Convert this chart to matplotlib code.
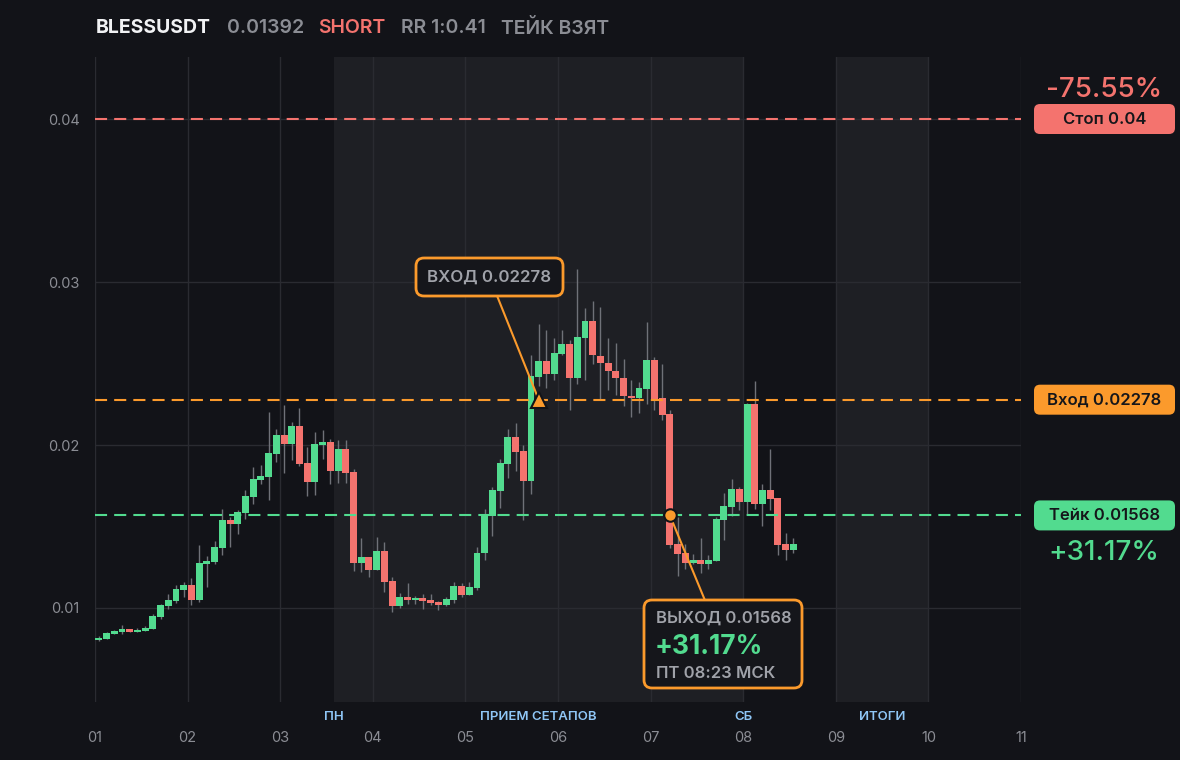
import matplotlib
matplotlib.use('Agg')
import matplotlib.pyplot as plt
from matplotlib.patches import FancyBboxPatch
from matplotlib.transforms import blended_transform_factory

plt.rcParams['font.family'] = ['Inter', 'DejaVu Sans']

# 2h candles, 12 per day
opens = [0.00804, 0.0081, 0.0084, 0.00853, 0.00871, 0.00853, 0.00859, 0.00871, 0.00945, 0.0101,
         0.0104, 0.0111, 0.0114, 0.0105, 0.0127, 0.01282, 0.01368, 0.0154, 0.01515, 0.01583,
         0.01681, 0.01785, 0.01804, 0.01945, 0.02061, 0.02006, 0.02117, 0.0189, 0.01773, 0.01999,
         0.02018, 0.0184, 0.01975, 0.01834, 0.01276, 0.01313, 0.01233, 0.0135, 0.01166, 0.01012,
         0.01067, 0.01049, 0.01061, 0.01049, 0.01037, 0.01018, 0.01049, 0.01135, 0.0108, 0.01123,
         0.01337, 0.01564, 0.01718, 0.01883, 0.02049, 0.01963, 0.01779, 0.02417, 0.02515, 0.02436,
         0.02558, 0.0262, 0.02411, 0.02656, 0.02761, 0.02546, 0.02503, 0.02454, 0.02411, 0.023,
         0.0229, 0.02344, 0.02521, 0.02288, 0.0219, 0.01393, 0.01337, 0.01276, 0.01294, 0.0127,
         0.01288, 0.0154, 0.0162, 0.0173, 0.0165, 0.02252, 0.01638, 0.01724, 0.01675, 0.01393,
         0.01356]
highs = [0.00828, 0.0085, 0.00865, 0.00896, 0.00873, 0.00877, 0.0089, 0.00963, 0.01025, 0.01086,
         0.01141, 0.0116, 0.01184, 0.01387, 0.01319, 0.01411, 0.01607, 0.01558, 0.01601, 0.01724,
         0.01865, 0.01877, 0.02202, 0.02098, 0.02245, 0.02141, 0.02227, 0.01988, 0.0208, 0.02092,
         0.02037, 0.02031, 0.02031, 0.01853, 0.01429, 0.01313, 0.01436, 0.01405, 0.0119, 0.01092,
         0.01153, 0.01074, 0.01086, 0.01086, 0.01043, 0.01067, 0.0116, 0.01153, 0.0116, 0.01374,
         0.01607, 0.01742, 0.01914, 0.021, 0.02135, 0.02, 0.02552, 0.02742, 0.02706, 0.02656,
         0.02706, 0.02644, 0.0308, 0.0284, 0.02883, 0.02847, 0.02656, 0.02626, 0.02528, 0.024,
         0.02387, 0.02755, 0.0254, 0.025, 0.02215, 0.01558, 0.01393, 0.01331, 0.0143, 0.01325,
         0.01558, 0.01706, 0.0179, 0.01742, 0.02258, 0.02393, 0.01761, 0.01975, 0.01675, 0.0146,
         0.0143]
lows = [0.008, 0.0081, 0.0084, 0.0084, 0.00853, 0.0085, 0.00859, 0.00871, 0.00933, 0.00994,
        0.0103, 0.01067, 0.01018, 0.01037, 0.01129, 0.0127, 0.01325, 0.01374, 0.01454, 0.01546,
        0.01638, 0.01761, 0.01663, 0.01896, 0.01828, 0.01908, 0.01871, 0.01687, 0.01693, 0.01914,
        0.01761, 0.01767, 0.01767, 0.01227, 0.01221, 0.0119, 0.01233, 0.01098, 0.00975, 0.01,
        0.01025, 0.01025, 0.00994, 0.01018, 0.00988, 0.01012, 0.01031, 0.01067, 0.0108, 0.01111,
        0.01294, 0.01442, 0.01613, 0.018, 0.0184, 0.0154, 0.017, 0.0236, 0.0235, 0.024,
        0.0255, 0.02215, 0.02374, 0.024, 0.025, 0.02276, 0.02337, 0.02307, 0.02239, 0.0217,
        0.02196, 0.0225, 0.02215, 0.02155, 0.01368, 0.01196, 0.01239, 0.0127, 0.01215, 0.01239,
        0.01288, 0.01417, 0.01564, 0.01601, 0.0157, 0.01607, 0.01503, 0.016, 0.01325, 0.01294,
        0.01337]
closes = [0.00816, 0.00847, 0.00859, 0.00871, 0.00853, 0.00865, 0.00877, 0.00951, 0.01018, 0.0105,
          0.01117, 0.01141, 0.01049, 0.01276, 0.01288, 0.01374, 0.0154, 0.01515, 0.01589, 0.01687,
          0.01791, 0.0181, 0.01952, 0.02061, 0.02006, 0.02117, 0.01883, 0.01773, 0.02006, 0.02018,
          0.0184, 0.01975, 0.01828, 0.01276, 0.01313, 0.01233, 0.0135, 0.0116, 0.01012, 0.01067,
          0.01049, 0.01061, 0.01043, 0.01031, 0.01018, 0.01055, 0.01135, 0.0108, 0.01129, 0.01337,
          0.01571, 0.01724, 0.0189, 0.02049, 0.01957, 0.01779, 0.02423, 0.02515, 0.02436, 0.02564,
          0.0262, 0.02411, 0.02663, 0.02761, 0.02552, 0.02503, 0.02454, 0.02411, 0.023, 0.0229,
          0.0235, 0.02521, 0.02285, 0.02186, 0.01387, 0.01331, 0.01276, 0.01294, 0.0127, 0.01294,
          0.01546, 0.01626, 0.0173, 0.0165, 0.02252, 0.01638, 0.01724, 0.01669, 0.01387, 0.01356,
          0.01392]

day_labels = ['01', '02', '03', '04', '05', '06', '07', '08', '09', '10', '11']
price_ticks = [0.01, 0.02, 0.03, 0.04]
candles_per_day = 12

stop_price = 0.04
entry_price = 0.02278
take_price = 0.01568
entry_candle = 57
exit_candle = 74

sessions = [(31 / 12, 7.0), (8.0, 9.0)]
session_names = ['ПН', 'ПРИЕМ СЕТАПОВ', 'СБ', 'ИТОГИ']
session_name_x = [31 / 12, (31 / 12 + 7.0) / 2, 7.0, 8.5]

BG = '#121318'
BAND = '#1e1f24'
GRID = '#2a2b31'
GREEN = '#52db8f'
RED = '#f4736e'
ORANGE = '#fb9a2c'
WICK = '#6f7178'
GRAY = '#8b8d94'
BLUE = '#8fc6f6'

W, H = 1180, 760
AX_L, AX_T, AX_W, AX_H = 95, 57, 926, 645

fig = plt.figure(figsize=(W / 100, H / 100), dpi=100, facecolor=BG)
ax = fig.add_axes([AX_L / W, (H - AX_T - AX_H) / H, AX_W / W, AX_H / H])
ax.set_facecolor(BG)
ax.set_xlim(0, 10)
ax.set_ylim(0.004233, 0.043804)

for a, b in sessions:
    ax.axvspan(a, b, color=BAND, lw=0, zorder=0)

xs = [(i + 0.5) / candles_per_day for i in range(len(opens))]
colors = [GREEN if c >= o else RED for o, c in zip(opens, closes)]
bottoms = [min(o, c) for o, c in zip(opens, closes)]
heights = [max(abs(c - o), 0.00005) for o, c in zip(opens, closes)]
ax.vlines(xs, lows, highs, color=WICK, lw=1, zorder=2)
ax.bar(xs, heights, bottom=bottoms, width=0.9 / candles_per_day, color=colors, lw=0, zorder=3)

dash = (0, (5.8, 3.4))
for level, col in [(stop_price, RED), (entry_price, ORANGE), (take_price, GREEN)]:
    ax.axhline(level, color=col, lw=1.5, ls=dash, zorder=4)

ax.set_xticks(range(len(day_labels)))
ax.set_xticklabels(day_labels)
ax.set_yticks(price_ticks)
ax.set_yticklabels([f'{t:.2f}' for t in price_ticks])
ax.set_axisbelow(True)
ax.grid(color=GRID, lw=1)
ax.tick_params(length=0, labelcolor=GRAY, labelsize=10.5)
ax.tick_params(axis='x', pad=21)
ax.tick_params(axis='y', pad=11)
for s in ax.spines.values():
    s.set_visible(False)

trans = blended_transform_factory(ax.transData, ax.transAxes)
for name, x in zip(session_names, session_name_x):
    ax.text(x, -0.0235, name, transform=trans, ha='center', va='center',
            color=BLUE, fontsize=9.5, fontweight='semibold')


def to_px(x, y):
    x0, x1 = ax.get_xlim()
    y0, y1 = ax.get_ylim()
    return (AX_L + (x - x0) / (x1 - x0) * AX_W,
            AX_T + (y1 - y) / (y1 - y0) * AX_H)


# overlay in pixel coordinates for boxes and labels
ov = fig.add_axes([0, 0, 1, 1])
ov.set_xlim(0, W)
ov.set_ylim(H, 0)
ov.axis('off')
ov.patch.set_alpha(0)

# title
for txt, x, col, wt in [('BLESSUSDT', 96, '#f1f2f4', 'bold'), ('0.01392', 227, GRAY, 'semibold'),
                        ('SHORT', 318, RED, 'semibold'), ('RR 1:0.41', 401, GRAY, 'semibold'),
                        ('ТЕЙК ВЗЯТ', 501, GRAY, 'semibold')]:
    ov.text(x, 28, txt, color=col, fontsize=14, fontweight=wt, ha='left', va='center')

# entry marker + callout
ex, ey = to_px(xs[entry_candle], entry_price)
bx, by = 489.5, 277
ov.plot([ex, bx], [ey, by], color=ORANGE, lw=1.5, zorder=2)
ov.add_patch(FancyBboxPatch((bx - 73.5, by - 19), 147, 38, boxstyle='round,pad=0,rounding_size=8',
                            fc='#15161b', ec=ORANGE, lw=2, zorder=3))
ov.text(bx, by, 'ВХОД 0.02278', color='#a0a2a9', fontsize=12.2, fontweight='semibold',
        ha='center', va='center', zorder=4)
ov.plot(ex, ey, marker='^', ms=11, color=ORANGE, mec=BG, mew=1.5, zorder=5)

# exit marker + callout
qx, qy = to_px(xs[exit_candle], take_price)
cx, cy = 723, 644
ov.plot([qx, cx], [qy, cy], color=ORANGE, lw=1.5, zorder=2)
ov.add_patch(FancyBboxPatch((cx - 79, cy - 44), 158, 88, boxstyle='round,pad=0,rounding_size=8',
                            fc='#15161b', ec=ORANGE, lw=2, zorder=3))
ov.text(cx - 67, cy - 26, 'ВЫХОД 0.01568', color='#a0a2a9', fontsize=12, fontweight='semibold',
        ha='left', va='center', zorder=4)
ov.text(cx - 68, cy + 3, '+31.17%', color=GREEN, fontsize=19, fontweight='bold',
        ha='left', va='center', zorder=4)
ov.text(cx - 67, cy + 29, 'ПТ 08:23 МСК', color='#a0a2a9', fontsize=12, fontweight='semibold',
        ha='left', va='center', zorder=4)
ov.plot(qx, qy, marker='o', ms=9, color=ORANGE, mec=BG, mew=1.5, zorder=5)

# right side badges
for label, level, col in [('Стоп 0.04', stop_price, RED), ('Вход 0.02278', entry_price, ORANGE),
                          ('Тейк 0.01568', take_price, GREEN)]:
    _, py = to_px(0, level)
    ov.add_patch(FancyBboxPatch((1034, py - 15), 141, 30, boxstyle='round,pad=0,rounding_size=6',
                                fc=col, ec='none', zorder=3))
    ov.text(1104.5, py, label, color='#15161a', fontsize=12, fontweight='semibold',
            ha='center', va='center', zorder=4)

_, ps = to_px(0, stop_price)
_, pt = to_px(0, take_price)
ov.text(1104, ps - 29, '-75.55%', color=RED, fontsize=20, fontweight='medium',
        ha='center', va='center')
ov.text(1104, pt + 38, '+31.17%', color=GREEN, fontsize=20, fontweight='medium',
        ha='center', va='center')

fig.savefig('out.png', dpi=100, facecolor=BG)
